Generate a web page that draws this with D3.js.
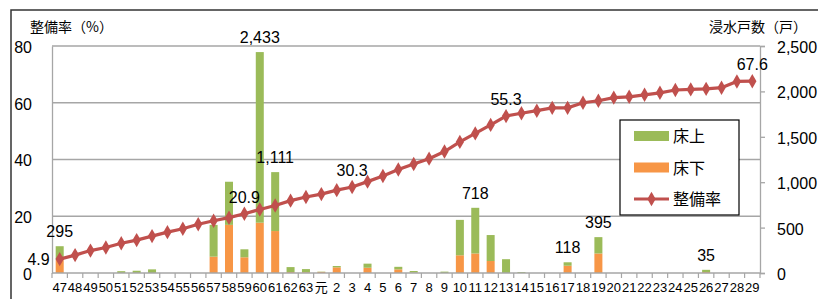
<!DOCTYPE html>
<html>
<head>
<meta charset="utf-8">
<script src="https://cdn.jsdelivr.net/npm/d3@7"></script>
<style>
  body { margin: 0; background: #fff; }
  text { font-family: "Liberation Sans", "Noto Sans CJK JP", sans-serif; fill: #000; }
  .jp { font-family: "Noto Sans CJK JP", sans-serif; }
</style>
</head>
<body>
<svg id="chart"></svg>
<script>
// 年度 (昭和47〜63, 平成元〜29)
var years = ["47","48","49","50","51","52","53","54","55","56","57","58","59","60","61","62","63",
  "元","2","3","4","5","6","7","8","9","10","11","12","13","14","15","16","17","18","19","20",
  "21","22","23","24","25","26","27","28","29"]
// 床下浸水 (戸)
var yukashita = [145,0,0,0,0,0,0,0,0,0,180,530,173,554,462,10,8,
  12,62,0,58,0,40,4,0,0,195,215,132,0,0,0,0,80,0,215,0,
  0,0,0,0,0,10,0,0,0]
// 床上浸水 (戸)
var yukaue = [150,0,0,0,20,25,40,0,0,0,350,475,88,1879,649,55,35,
  3,15,0,45,0,28,18,0,15,390,503,286,152,10,0,0,38,0,180,0,
  0,0,0,0,0,25,0,0,0]
// 整備率 (%)
var seibiritsu = [4.9,6.3,7.9,9.0,10.5,11.6,13.0,14.4,15.6,17.2,18.4,19.5,20.9,22.4,23.8,25.5,26.8,
  27.8,29.2,30.3,32.2,34.2,36.5,38.4,40.3,42.8,46.2,49.2,52.2,55.3,56.3,57.2,58.2,58.2,60.0,60.7,61.8,
  62.1,62.8,63.5,64.5,64.7,64.9,65.3,67.5,67.6]
var barLabelYears = ["47","60","61","11","17","19","26"]
var lineLabelYears = ["47","59","3","13","29"]
var leftTicks = [0,20,40,60,80]
var rightTicks = [0,500,1000,1500,2000,2500]

var dimensions = {
  width: 818,
  height: 299,
  margin: { top: 46, bottom: 26, left: 52, right: 58 }
}
var data = years.map((y, i) => ({
  year: y,
  shita: yukashita[i],
  ue: yukaue[i],
  rate: seibiritsu[i]
}))

var svg = d3.select("#chart")
  .attr("width", dimensions.width)
  .attr("height", dimensions.height)

// outer frame
svg.append("rect")
  .attr("x", 11).attr("y", 10)
  .attr("width", 900).attr("height", 400)
  .attr("fill", "none").attr("stroke", "#333").attr("stroke-width", 1.5)

var x0 = dimensions.margin.left
var x1 = dimensions.width - dimensions.margin.right
var yBottom = dimensions.height - dimensions.margin.bottom
var yTop = dimensions.margin.top

var xScale = d3.scaleBand()
  .domain(years)
  .range([x0, x1])
  .paddingInner(0.48)
  .paddingOuter(0.24)
var step = xScale.step()
var xCenter = d => xScale(d) + xScale.bandwidth() / 2

var yLeft = d3.scaleLinear().domain([0, 80]).range([yBottom, yTop])
var yRight = d3.scaleLinear().domain([0, 2500]).range([yBottom, yTop])

// gridlines
svg.append("g").selectAll("line")
  .data(leftTicks.slice(1))
  .enter().append("line")
  .attr("x1", x0).attr("x2", x1)
  .attr("y1", d => yLeft(d)).attr("y2", d => yLeft(d))
  .attr("stroke", "#a6a6a6").attr("stroke-width", 1.3)

// left axis
var yAxisgen = d3.axisLeft(yLeft).tickValues(leftTicks).tickSize(0).tickPadding(20)
var yAxis = svg.append("g")
  .attr("transform", `translate(${x0},0)`)
  .call(yAxisgen)
yAxis.select(".domain").attr("stroke", "#a6a6a6").attr("stroke-width", 1.3)
yAxis.selectAll("text").style("font-size", "16px").attr("dy", "0.4em")

// right axis
var rAxisgen = d3.axisRight(yRight).tickValues(rightTicks).tickSize(5).tickPadding(12)
  .tickFormat(d3.format(","))
var rAxis = svg.append("g")
  .attr("transform", `translate(${x1},0)`)
  .call(rAxisgen)
rAxis.select(".domain").attr("stroke", "#a6a6a6").attr("stroke-width", 1.3)
rAxis.selectAll("line").attr("stroke", "#a6a6a6").attr("stroke-width", 1.3)
rAxis.selectAll("text").style("font-size", "16px").attr("dy", "0.4em")

// bars: 床下 bottom, 床上 top
var bars = svg.append("g")
bars.selectAll(".shita")
  .data(data)
  .enter().append("rect")
  .attr("x", d => xScale(d.year))
  .attr("width", xScale.bandwidth())
  .attr("y", d => yRight(d.shita))
  .attr("height", d => yRight(0) - yRight(d.shita))
  .attr("fill", "#f79646")
bars.selectAll(".ue")
  .data(data)
  .enter().append("rect")
  .attr("x", d => xScale(d.year))
  .attr("width", xScale.bandwidth())
  .attr("y", d => yRight(d.shita + d.ue))
  .attr("height", d => yRight(d.shita) - yRight(d.shita + d.ue))
  .attr("fill", "#9bbb59")

// x axis
svg.append("line")
  .attr("x1", x0).attr("x2", x1)
  .attr("y1", yBottom).attr("y2", yBottom)
  .attr("stroke", "#a6a6a6").attr("stroke-width", 1.3)
svg.append("g").selectAll("line")
  .data(d3.range(years.length + 1))
  .enter().append("line")
  .attr("x1", k => x0 + k * step).attr("x2", k => x0 + k * step)
  .attr("y1", yBottom).attr("y2", yBottom + 5)
  .attr("stroke", "#a6a6a6").attr("stroke-width", 1.2)
svg.append("g").selectAll("text")
  .data(years)
  .enter().append("text")
  .attr("x", d => xCenter(d))
  .attr("y", yBottom + 19)
  .attr("text-anchor", "middle")
  .style("font-size", "13px")
  .text(d => d)

// bar totals
svg.append("g").selectAll("text")
  .data(data.filter(d => barLabelYears.includes(d.year)))
  .enter().append("text")
  .attr("x", d => xCenter(d.year))
  .attr("y", d => yRight(d.shita + d.ue) - 9)
  .attr("text-anchor", "middle")
  .style("font-size", "16px")
  .text(d => d3.format(",")(d.shita + d.ue))

// 整備率 line
var lineGen = d3.line()
  .x(d => xCenter(d.year))
  .y(d => yLeft(d.rate))
svg.append("path")
  .datum(data)
  .attr("d", lineGen)
  .attr("fill", "none")
  .attr("stroke", "#c0504d")
  .attr("stroke-width", 3.2)
var diamond = d3.symbol().type(d3.symbolDiamond).size(60)
svg.append("g").selectAll("path")
  .data(data)
  .enter().append("path")
  .attr("d", diamond)
  .attr("transform", d => `translate(${xCenter(d.year)},${yLeft(d.rate)})`)
  .attr("fill", "#c0504d")

svg.append("g").selectAll("text")
  .data(data.filter(d => lineLabelYears.includes(d.year)))
  .enter().append("text")
  .attr("x", d => d.year == "47" ? xCenter(d.year) - 10 : xCenter(d.year))
  .attr("y", d => d.year == "47" ? yLeft(d.rate) + 6 : yLeft(d.rate) - 11)
  .attr("text-anchor", d => d.year == "47" ? "end" : "middle")
  .style("font-size", "16px")
  .text(d => d.rate.toFixed(1))

// axis titles
svg.append("text").attr("class", "jp")
  .attr("x", 30).attr("y", 32)
  .style("font-size", "14px")
  .text("整備率（%）")
svg.append("text").attr("class", "jp")
  .attr("x", 709).attr("y", 32)
  .style("font-size", "14px")
  .text("浸水戸数（戸）")

// legend
var legend = svg.append("g").attr("transform", "translate(620,120)")
legend.append("rect")
  .attr("width", 119).attr("height", 95)
  .attr("fill", "#fff").attr("stroke", "#000").attr("stroke-width", 1.2)
var legendItems = [
  { name: "床上", color: "#9bbb59", type: "bar" },
  { name: "床下", color: "#f79646", type: "bar" },
  { name: "整備率", color: "#c0504d", type: "line" }
]
legendItems.forEach((item, i) => {
  var cy = 16 + i * 31.5
  if (item.type == "bar") {
    legend.append("rect")
      .attr("x", 14).attr("y", cy - 5)
      .attr("width", 35).attr("height", 10)
      .attr("fill", item.color)
  } else {
    legend.append("line")
      .attr("x1", 14).attr("x2", 49)
      .attr("y1", cy).attr("y2", cy)
      .attr("stroke", item.color).attr("stroke-width", 3.2)
    legend.append("path")
      .attr("d", diamond)
      .attr("transform", `translate(31.5,${cy})`)
      .attr("fill", item.color)
  }
  legend.append("text").attr("class", "jp")
    .attr("x", 53).attr("y", cy + 6)
    .style("font-size", "16px")
    .text(item.name)
})
</script>
</body>
</html>
